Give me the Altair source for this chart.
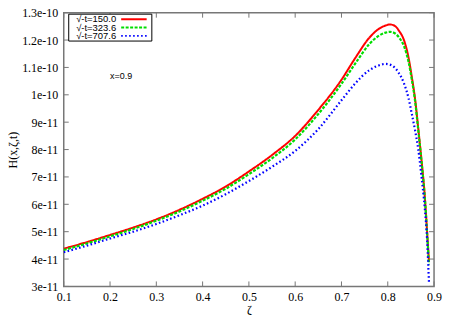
import altair as alt
import pandas as pd

# ---- data (H values in units of 1e-11) ----
ZETA_RG = [0.1, 0.15, 0.2, 0.25, 0.3, 0.35, 0.4, 0.45, 0.5, 0.55, 0.6, 0.65, 0.7, 0.73, 0.76,
           0.78, 0.795, 0.805, 0.815, 0.825, 0.835, 0.845, 0.852, 0.859, 0.866, 0.873, 0.88, 0.885, 0.889]
RED = [4.38, 4.62, 4.88, 5.15, 5.45, 5.8, 6.2, 6.65, 7.2, 7.8, 8.5, 9.45, 10.55, 11.35, 12.08,
       12.4, 12.53, 12.57, 12.52, 12.32, 12.0, 11.35, 10.65, 9.85, 8.75, 7.6, 6.3, 5.0, 3.9]
GREEN = [4.33, 4.57, 4.83, 5.1, 5.4, 5.74, 6.13, 6.57, 7.1, 7.68, 8.37, 9.3, 10.4, 11.15, 11.85,
         12.15, 12.27, 12.3, 12.25, 12.08, 11.78, 11.2, 10.55, 9.78, 8.7, 7.55, 6.25, 4.95, 3.8]
ZETA_B = [0.1, 0.15, 0.2, 0.25, 0.3, 0.35, 0.4, 0.45, 0.5, 0.55, 0.6, 0.65, 0.7, 0.73, 0.76,
          0.78, 0.795, 0.81, 0.823, 0.835, 0.845, 0.852, 0.859, 0.866, 0.873, 0.88, 0.885, 0.889]
BLUE = [4.25, 4.49, 4.75, 5.0, 5.28, 5.6, 5.95, 6.37, 6.85, 7.37, 7.95, 8.75, 9.8, 10.42, 10.9,
        11.07, 11.13, 11.06, 10.82, 10.42, 9.87, 9.3, 8.7, 8.0, 7.0, 5.85, 4.7, 3.15]

SERIES = ["√-t=150.0", "√-t=323.6", "√-t=707.6"]
COLORS = ["#ff0000", "#00dd00", "#0000ff"]
DASHES = [[1, 0], [3, 1.5], [1.6, 2.4]]

X_TICKS = [0.1, 0.2, 0.3, 0.4, 0.5, 0.6, 0.7, 0.8, 0.9]
Y_TICKS = [3, 4, 5, 6, 7, 8, 9, 10, 11, 12, 13]
Y_TICK_LABELS = ["3e-11", "4e-11", "5e-11", "6e-11", "7e-11", "8e-11", "9e-11",
                 "1e-10", "1.1e-10", "1.2e-10", "1.3e-10"]
ANNOT = "x=0.9"

W, H = 372, 275
SERIF = "Liberation Serif"
SANS = "Liberation Sans"

xs = alt.Scale(domain=[0.1, 0.9], nice=False, zero=False)
ys = alt.Scale(domain=[3, 13], nice=False, zero=False)

label_expr = "[" + ",".join("'%s'" % s for s in Y_TICK_LABELS) + "][round(datum.value) - 3]"

xaxis = alt.Axis(values=X_TICKS, format=".1f", title="ζ", labelPadding=5, titlePadding=2)
yaxis = alt.Axis(values=Y_TICKS, labelExpr=label_expr, title="H(x,ζ,t)", labelPadding=6,
                 titlePadding=2)

frames = []
for name, zz, vv in [(SERIES[0], ZETA_RG, RED), (SERIES[1], ZETA_RG, GREEN), (SERIES[2], ZETA_B, BLUE)]:
    frames.append(pd.DataFrame({"zeta": zz, "H": vv, "series": name}))
df = pd.concat(frames, ignore_index=True)


def X(field):
    return alt.X(field, scale=xs, axis=xaxis)


def Y(field):
    return alt.Y(field, scale=ys, axis=yaxis)


layers = []

# tick marks (inward, mirrored)
xt = pd.DataFrame({"zeta": X_TICKS})
yt = pd.DataFrame({"H": Y_TICKS})
TK = "#777777"
layers.append(alt.Chart(xt).mark_rule(color=TK, strokeWidth=1).encode(
    x=X("zeta:Q"), y=alt.value(H), y2=alt.value(H - 5)))
layers.append(alt.Chart(xt).mark_rule(color=TK, strokeWidth=1).encode(
    x=X("zeta:Q"), y=alt.value(0), y2=alt.value(5)))
layers.append(alt.Chart(yt).mark_rule(color=TK, strokeWidth=1).encode(
    y=Y("H:Q"), x=alt.value(0), x2=alt.value(5)))
layers.append(alt.Chart(yt).mark_rule(color=TK, strokeWidth=1).encode(
    y=Y("H:Q"), x=alt.value(W - 5), x2=alt.value(W)))

# curves
for name, col, dash in zip(SERIES, COLORS, DASHES):
    layers.append(alt.Chart(df[df.series == name]).mark_line(
        color=col, strokeWidth=2 if name == SERIES[0] else 2.2, strokeDash=dash,
        interpolate="monotone", clip=True).encode(
        x=X("zeta:Q"), y=Y("H:Q")))

# legend box
layers.append(alt.Chart(pd.DataFrame({"a": [0]})).mark_rect(
    fill="white", stroke="black", strokeWidth=1).encode(
    x=alt.value(5), x2=alt.value(88.5), y=alt.value(1.5), y2=alt.value(28.5)))
for i, (name, col, dash) in enumerate(zip(SERIES, COLORS, DASHES)):
    yy = 6.7 + i * 8.3
    layers.append(alt.Chart(pd.DataFrame({"t": [name]})).mark_text(
        font=SANS, fontSize=9.5, align="right", baseline="middle", color="black").encode(
        text="t:N", x=alt.value(52.7), y=alt.value(yy)))
    layers.append(alt.Chart(pd.DataFrame({"t": [name]})).mark_rule(
        color=col, strokeWidth=2, strokeDash=dash).encode(
        x=alt.value(57.7), x2=alt.value(83.3), y=alt.value(yy)))

# annotation
layers.append(alt.Chart(pd.DataFrame({"t": [ANNOT]})).mark_text(
    font=SANS, fontSize=9, align="center", baseline="middle", color="black").encode(
    text="t:N", x=alt.value(57.7), y=alt.value(64)))

chart = alt.layer(*layers).properties(
    width=W, height=H,
    autosize=alt.AutoSizeParams(type="none"),
    padding={"left": 56, "top": 4, "right": 10, "bottom": 28},
).configure_view(
    stroke="#777777", strokeWidth=1.5
).configure_axis(
    ticks=False, domain=False, grid=False,
    labelFont=SERIF, labelFontSize=12, labelColor="black",
    labelOverlap=False, labelFlush=False,
    titleFont=SERIF, titleFontSize=12, titleFontWeight="normal", titleColor="black",
)

chart.save("out.html", embed_options={"renderer": "svg", "actions": False})
